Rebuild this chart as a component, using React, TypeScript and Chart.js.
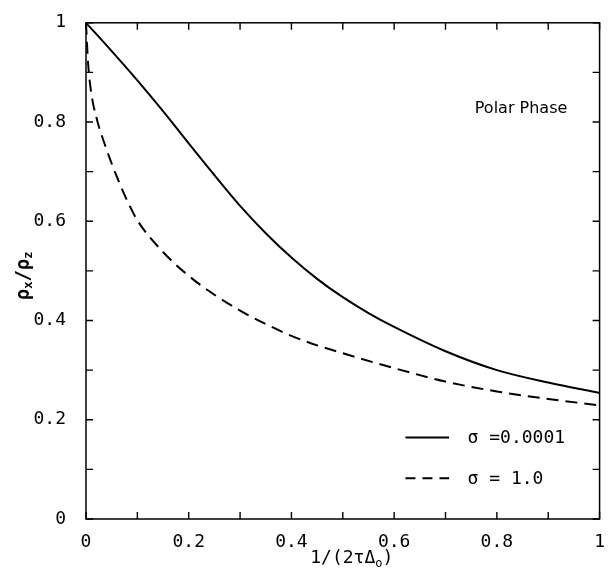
import React, { useEffect, useRef } from 'react';
import { Chart, registerables } from 'chart.js';

Chart.register(...registerables);

// σ = 0.0001 (solid)
const xSolid = [0, 0.05, 0.1, 0.15, 0.2, 0.25, 0.3, 0.35, 0.4, 0.45, 0.5, 0.55, 0.6, 0.7, 0.8, 0.9, 1.0];
const ySolid = [1, 0.943, 0.884, 0.822, 0.757, 0.693, 0.631, 0.576, 0.527, 0.484, 0.447, 0.415, 0.387, 0.338, 0.300, 0.275, 0.254];

// σ = 1.0 (dashed)
const xDashed = [0, 0.004, 0.01, 0.02, 0.04, 0.06, 0.08, 0.1, 0.15, 0.2, 0.25, 0.3, 0.35, 0.4, 0.45, 0.5, 0.6, 0.7, 0.8, 0.9, 1.0];
const yDashed = [1, 0.92, 0.86, 0.81, 0.745, 0.69, 0.642, 0.602, 0.538, 0.49, 0.452, 0.42, 0.393, 0.369, 0.35, 0.334, 0.304, 0.277, 0.257, 0.242, 0.229];

const tickValues = [0, 0.1, 0.2, 0.3, 0.4, 0.5, 0.6, 0.7, 0.8, 0.9, 1.0];
const legendLabels = ['σ =0.0001', 'σ = 1.0'];
const annotationText = 'Polar Phase';
const xTitleMain = '1/(2τΔ';
const xTitleSub = 'o';
const xTitleEnd = ')';

const FONT = '"DejaVu Sans Mono", monospace';

const fmt = (v: number) => {
  const n = Math.round(v * 10);
  if (n % 2 !== 0) return '';
  if (n === 0) return '0';
  if (n === 10) return '1';
  return (n / 10).toFixed(1);
};

const decorPlugin = {
  id: 'decor',
  afterDraw(chart: any) {
    const { ctx, chartArea: a, scales } = chart;
    const xs = scales.x;
    const ys = scales.y;
    ctx.save();
    ctx.strokeStyle = '#000';
    ctx.fillStyle = '#000';
    ctx.lineWidth = 1.5;
    ctx.setLineDash([]);
    ctx.strokeRect(a.left, a.top, a.right - a.left, a.bottom - a.top);

    // inward ticks on all four sides
    ctx.lineWidth = 1.4;
    const tl = 7;
    ctx.beginPath();
    for (const v of tickValues) {
      const px = xs.getPixelForValue(v);
      ctx.moveTo(px, a.bottom);
      ctx.lineTo(px, a.bottom - tl);
      ctx.moveTo(px, a.top);
      ctx.lineTo(px, a.top + tl);
      const py = ys.getPixelForValue(v);
      ctx.moveTo(a.left, py);
      ctx.lineTo(a.left + tl, py);
      ctx.moveTo(a.right, py);
      ctx.lineTo(a.right - tl, py);
    }
    ctx.stroke();

    // annotation
    ctx.font = `16px "DejaVu Sans", sans-serif`;
    ctx.textAlign = 'left';
    ctx.textBaseline = 'middle';
    ctx.fillText(annotationText, xs.getPixelForValue(0.757), ys.getPixelForValue(0.826));

    // legend
    ctx.font = `18px ${FONT}`;
    const lx0 = xs.getPixelForValue(0.622);
    const lx1 = xs.getPixelForValue(0.707);
    const tx = xs.getPixelForValue(0.743);
    const rows = [ys.getPixelForValue(0.164), ys.getPixelForValue(0.082)];
    rows.forEach((y, i) => {
      ctx.lineWidth = 2;
      ctx.setLineDash(i === 0 ? [] : [10, 7]);
      ctx.beginPath();
      ctx.moveTo(lx0, y);
      ctx.lineTo(lx1, y);
      ctx.stroke();
      ctx.setLineDash([]);
      ctx.fillText(legendLabels[i], tx, y + 1);
    });

    // x title
    const cx = (a.left + a.right) / 2 + 9;
    const by = 563;
    ctx.textBaseline = 'alphabetic';
    const mainFont = `18px ${FONT}`;
    const subFont = `12px ${FONT}`;
    ctx.font = mainFont;
    const w1 = ctx.measureText(xTitleMain).width;
    const w3 = ctx.measureText(xTitleEnd).width;
    ctx.font = subFont;
    const w2 = ctx.measureText(xTitleSub).width;
    let x = cx - (w1 + w2 + w3) / 2;
    ctx.font = mainFont;
    ctx.fillText(xTitleMain, x, by);
    x += w1;
    ctx.font = subFont;
    ctx.fillText(xTitleSub, x, by + 4);
    x += w2;
    ctx.font = mainFont;
    ctx.fillText(xTitleEnd, x, by);

    // y title (rotated)
    const yMain = `bold 19px ${FONT}`;
    const ySub = `bold 12px ${FONT}`;
    const parts: [string, boolean][] = [['ρ', false], ['x', true], ['/', false], ['ρ', false], ['z', true]];
    let total = 0;
    for (const [t, sub] of parts) {
      ctx.font = sub ? ySub : yMain;
      total += ctx.measureText(t).width;
    }
    ctx.translate(29, (a.top + a.bottom) / 2 + 5);
    ctx.rotate(-Math.PI / 2);
    let px = -total / 2;
    for (const [t, sub] of parts) {
      ctx.font = sub ? ySub : yMain;
      ctx.fillText(t, px, sub ? 3 : 0);
      px += ctx.measureText(t).width;
    }
    ctx.restore();
  },
};

export default function App() {
  const ref = useRef<HTMLCanvasElement>(null);
  useEffect(() => {
    if (!ref.current) return;
    const chart = new Chart(ref.current, {
      type: 'scatter',
      data: {
        datasets: [
          {
            label: legendLabels[0],
            data: xSolid.map((x, i) => ({ x, y: ySolid[i] })),
            showLine: true,
            borderColor: '#000',
            borderWidth: 2,
            pointRadius: 0,
            cubicInterpolationMode: 'monotone',
          },
          {
            label: legendLabels[1],
            data: xDashed.map((x, i) => ({ x, y: yDashed[i] })),
            showLine: true,
            borderColor: '#000',
            borderWidth: 2,
            borderDash: [12, 7],
            pointRadius: 0,
            cubicInterpolationMode: 'monotone',
          },
        ],
      },
      options: {
        animation: false,
        responsive: false,
        layout: { padding: { top: 13, right: 6, left: 0, bottom: 0 } },
        plugins: { legend: { display: false }, tooltip: { enabled: false } },
        scales: {
          x: {
            type: 'linear',
            min: 0,
            max: 1,
            grid: { display: false },
            border: { display: false },
            afterFit: (s: any) => { s.height = 56; },
            ticks: {
              stepSize: 0.1,
              autoSkip: false,
              maxRotation: 0,
              padding: 5,
              color: '#000',
              font: { family: FONT, size: 18 },
              callback: (v: any) => fmt(Number(v)),
            },
          },
          y: {
            type: 'linear',
            min: 0,
            max: 1,
            grid: { display: false },
            border: { display: false },
            afterFit: (s: any) => { s.width = 86; },
            ticks: {
              stepSize: 0.1,
              autoSkip: false,
              padding: 12,
              color: '#000',
              font: { family: FONT, size: 18 },
              callback: (v: any) => fmt(Number(v)),
            },
          },
        },
      },
      plugins: [decorPlugin],
    } as any);
    return () => chart.destroy();
  }, []);
  return (
    <div style={{ position: 'absolute', left: 0, top: 0, width: 610, height: 575, background: '#fff' }}>
      <canvas ref={ref} width={610} height={575} />
    </div>
  );
}
